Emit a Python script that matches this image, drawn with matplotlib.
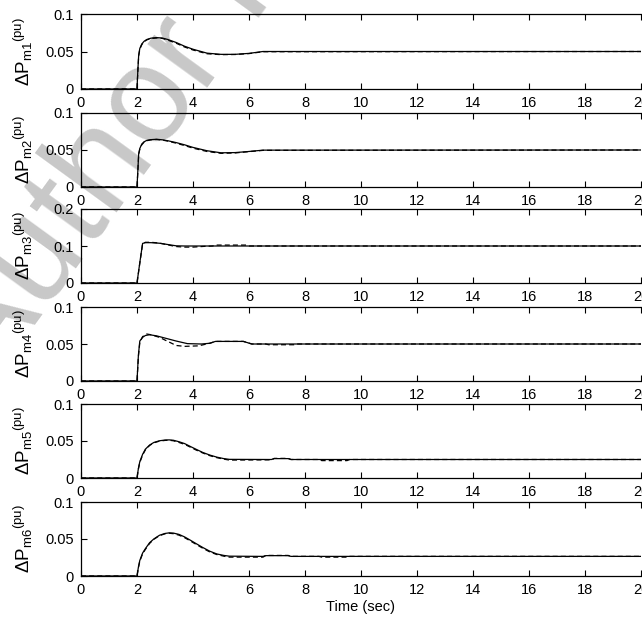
import matplotlib
matplotlib.use('Agg')
import matplotlib.pyplot as plt

plt.rcParams['font.family'] = ['Liberation Sans', 'DejaVu Sans']
plt.rcParams['mathtext.fontset'] = 'custom'
plt.rcParams['mathtext.rm'] = 'Liberation Sans'
plt.rcParams['mathtext.it'] = 'Liberation Sans'
plt.rcParams['mathtext.sf'] = 'Liberation Sans'

# ---------------- data ----------------
x_ticks = [0, 2, 4, 6, 8, 10, 12, 14, 16, 18, 20]

# Subplot 1 : dPm1
t1 = [0, 2.0, 2.03, 2.06, 2.1, 2.17, 2.25, 2.35, 2.5, 2.7, 2.9, 3.1, 3.4, 3.7, 4.0, 4.5, 5.0, 5.5, 6.0, 6.5, 20]
y1_solid = [0, 0, 0.025, 0.045, 0.054, 0.060, 0.0635, 0.066, 0.0678, 0.0685, 0.068, 0.066, 0.062, 0.057, 0.053, 0.0478, 0.0462, 0.0462, 0.0475, 0.050, 0.050]
y1_dash = [0, 0, 0.024, 0.044, 0.053, 0.059, 0.063, 0.0655, 0.0673, 0.068, 0.0675, 0.0652, 0.061, 0.056, 0.052, 0.047, 0.0458, 0.046, 0.0472, 0.0497, 0.050]

# Subplot 2 : dPm2
t2 = [0, 2.0, 2.03, 2.06, 2.1, 2.17, 2.25, 2.35, 2.5, 2.7, 2.9, 3.1, 3.4, 3.7, 4.0, 4.5, 5.0, 5.5, 6.0, 6.5, 20]
y2_solid = [0, 0, 0.022, 0.045, 0.052, 0.058, 0.061, 0.063, 0.064, 0.0645, 0.0638, 0.0625, 0.060, 0.057, 0.0535, 0.049, 0.0462, 0.0465, 0.048, 0.0498, 0.050]
y2_dash = [0, 0, 0.021, 0.044, 0.051, 0.057, 0.0605, 0.0625, 0.0638, 0.0642, 0.0635, 0.062, 0.0592, 0.056, 0.0525, 0.048, 0.0455, 0.046, 0.0478, 0.0495, 0.050]

# Subplot 3 : dPm3
t3 = [0, 2.0, 2.1, 2.2, 2.3, 2.5, 2.8, 3.1, 3.4, 3.7, 4.0, 20]
y3_solid = [0, 0, 0.055, 0.107, 0.109, 0.109, 0.1075, 0.104, 0.1005, 0.100, 0.100, 0.100]
t3_dash = [0, 2.0, 2.1, 2.2, 2.3, 2.5, 2.8, 3.1, 3.4, 3.7, 4.0, 4.4, 4.7, 4.8, 5.9, 6.0, 20]
y3_dash = [0, 0, 0.053, 0.106, 0.110, 0.110, 0.108, 0.103, 0.0985, 0.097, 0.097, 0.099, 0.100, 0.1025, 0.1025, 0.100, 0.100]

# Subplot 4 : dPm4
t4 = [0, 2.0, 2.05, 2.1, 2.2, 2.3, 2.45, 2.7, 3.0, 3.4, 3.8, 4.3, 4.6, 4.8, 5.8, 6.1, 20]
y4_solid = [0, 0, 0.035, 0.054, 0.059, 0.0615, 0.0625, 0.061, 0.058, 0.054, 0.0505, 0.050, 0.051, 0.0535, 0.0535, 0.050, 0.050]
t4_dash = [0, 2.0, 2.05, 2.1, 2.2, 2.35, 2.5, 2.8, 3.1, 3.4, 3.7, 4.2, 4.6, 4.8, 5.8, 6.1, 6.6, 6.7, 7.6, 7.7, 20]
y4_dash = [0, 0, 0.033, 0.052, 0.060, 0.0635, 0.0625, 0.059, 0.0535, 0.048, 0.0468, 0.0475, 0.051, 0.0535, 0.0535, 0.050, 0.050, 0.049, 0.049, 0.050, 0.050]

# Subplot 5 : dPm5
t5 = [0, 2.0, 2.05, 2.1, 2.2, 2.3, 2.45, 2.6, 2.8, 3.0, 3.15, 3.3, 3.5, 3.7, 3.9, 4.1, 4.35, 4.6, 4.85, 5.1, 5.3,
      6.8, 6.9, 7.4, 7.5, 8.5, 8.6, 9.5, 9.6, 20]
y5_solid = [0, 0, 0.013, 0.022, 0.032, 0.039, 0.0445, 0.048, 0.0503, 0.0513, 0.0515, 0.051, 0.049, 0.0465, 0.0427, 0.039, 0.0345, 0.031, 0.0282, 0.0262, 0.0252,
            0.025, 0.0262, 0.0262, 0.025, 0.025, 0.025, 0.025, 0.025, 0.025]
y5_dash = [0, 0, 0.012, 0.021, 0.031, 0.038, 0.044, 0.0475, 0.0498, 0.0508, 0.051, 0.0503, 0.048, 0.0455, 0.0418, 0.038, 0.0338, 0.0302, 0.0275, 0.0255, 0.0242,
           0.0245, 0.0265, 0.0265, 0.025, 0.025, 0.0235, 0.0235, 0.025, 0.025]

# Subplot 6 : dPm6
t6 = [0, 2.0, 2.05, 2.1, 2.2, 2.3, 2.45, 2.6, 2.8, 3.0, 3.15, 3.3, 3.5, 3.7, 3.9, 4.1, 4.35, 4.6, 4.85, 5.1, 5.3,
      6.5, 6.6, 7.4, 7.5, 8.5, 8.6, 9.5, 9.6, 20]
y6_solid = [0, 0, 0.012, 0.021, 0.031, 0.037, 0.045, 0.050, 0.055, 0.0575, 0.0583, 0.058, 0.0562, 0.0528, 0.0485, 0.044, 0.0385, 0.0335, 0.0298, 0.0278, 0.0268,
            0.0265, 0.0275, 0.0275, 0.0265, 0.0265, 0.0265, 0.0265, 0.0265, 0.0265]
y6_dash = [0, 0, 0.011, 0.020, 0.030, 0.036, 0.044, 0.0495, 0.0545, 0.057, 0.0578, 0.0572, 0.0552, 0.0518, 0.0475, 0.043, 0.0375, 0.0325, 0.029, 0.0268, 0.0255,
           0.0255, 0.0278, 0.0278, 0.0265, 0.0265, 0.0255, 0.0255, 0.0265, 0.0265]

series = [
    (t1, y1_solid, t1, y1_dash, 0.1, [0, 0.05, 0.1], ['0', '0.05', '0.1'], 'm1'),
    (t2, y2_solid, t2, y2_dash, 0.1, [0, 0.05, 0.1], ['0', '0.05', '0.1'], 'm2'),
    (t3, y3_solid, t3_dash, y3_dash, 0.2, [0, 0.1, 0.2], ['0', '0.1', '0.2'], 'm3'),
    (t4, y4_solid, t4_dash, y4_dash, 0.1, [0, 0.05, 0.1], ['0', '0.05', '0.1'], 'm4'),
    (t5, y5_solid, t5, y5_dash, 0.1, [0, 0.05, 0.1], ['0', '0.05', '0.1'], 'm5'),
    (t6, y6_solid, t6, y6_dash, 0.1, [0, 0.05, 0.1], ['0', '0.05', '0.1'], 'm6'),
]

# ---------------- layout ----------------
W, H = 642, 619
fig = plt.figure(figsize=(W / 100, H / 100), dpi=100)
fig.patch.set_facecolor('white')

tops = [14, 113, 209, 307, 404, 502]
bots = [89, 187, 283, 381, 478, 576]
left_px, right_px = 81, 641

# watermark
fig.text(-11 / W, 1 - 388 / H, 'Author Proof', rotation=54, rotation_mode='anchor',
         ha='left', va='baseline', fontsize=100,
         color='#c8c8c8', zorder=-5)

for i, (ts, ys, td, yd, ymax, yt, ytl, sub) in enumerate(series):
    ax = fig.add_axes([left_px / W, 1 - bots[i] / H, (right_px - left_px) / W, (bots[i] - tops[i]) / H])
    ax.set_facecolor('none')
    ax.plot(ts, ys, color='black', lw=0.9, solid_joinstyle='round')
    ax.plot(td, yd, color='black', lw=0.9, dashes=(4, 2.5))
    ax.set_xlim(0, 20)
    ax.set_ylim(0, ymax)
    ax.set_xticks(x_ticks)
    ax.set_xticklabels([str(v) for v in x_ticks])
    ax.set_yticks(yt)
    ax.set_yticklabels(ytl)
    ax.spines['right'].set_visible(False)
    for s in ['top', 'bottom', 'left']:
        ax.spines[s].set_linewidth(0.9)
    ax.tick_params(direction='in', length=4, width=0.8, top=True, right=False,
                   labelsize=10.5, pad=5, colors='black')
    ax.set_ylabel(r'$\Delta\mathrm{P}_{\mathrm{' + sub + r'}}{}^{\mathrm{(pu)}}$', fontsize=13.5)
    ax.yaxis.set_label_coords(-0.082, 0.5)
    if i == 5:
        ax.set_xlabel('Time (sec)', fontsize=10.5, labelpad=2)

fig.savefig('out.png', dpi=100)
